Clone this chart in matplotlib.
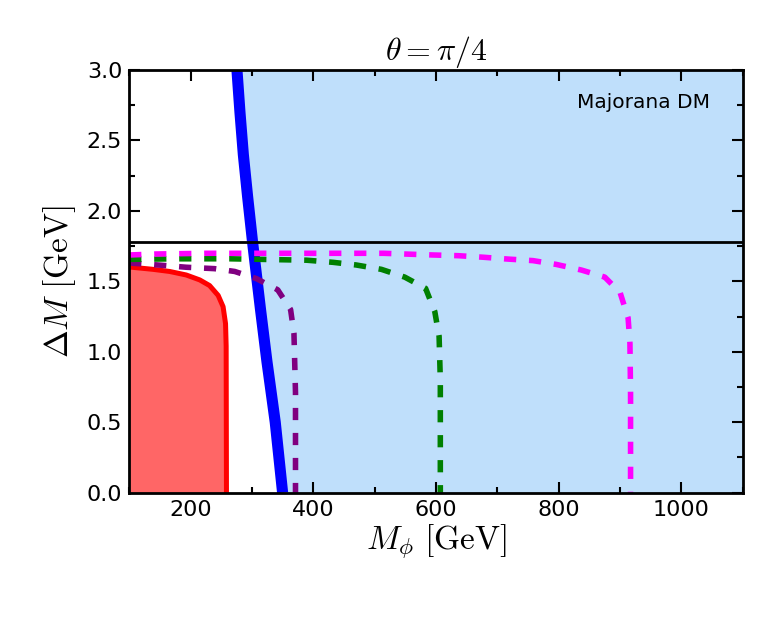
import matplotlib
matplotlib.use("Agg")
import matplotlib.pyplot as plt
from matplotlib.ticker import MultipleLocator

plt.rcParams['mathtext.fontset'] = 'cm'
plt.rcParams['font.family'] = ['DejaVu Sans']

# Data
blue_y = [0.0, 0.25, 0.5, 0.93, 1.3, 1.78, 2.1, 2.4, 2.7, 3.0]
blue_x = [350, 344, 338, 324.5, 314, 301, 293, 286, 280.5, 275.6]

red_x = [100, 104, 139, 166, 193, 215, 231, 245, 253, 257, 258, 258.5]
red_y = [1.60, 1.60, 1.585, 1.57, 1.545, 1.51, 1.47, 1.40, 1.32, 1.20, 1.04, 0.0]

purple_x = [100, 150, 193, 239, 272, 307, 342, 363, 368.5, 371, 371]
purple_y = [1.63, 1.615, 1.60, 1.59, 1.57, 1.52, 1.44, 1.30, 1.13, 0.71, 0.0]

green_x = [100, 182, 264, 389, 432, 470, 511, 549, 583, 598, 605, 607, 607]
green_y = [1.656, 1.66, 1.66, 1.65, 1.635, 1.616, 1.585, 1.53, 1.45, 1.285, 1.11, 0.8, 0.0]

magenta_x = [100, 144, 226, 391, 514, 595, 636, 677, 717, 758, 796, 837, 875, 900, 913, 916, 917, 917]
magenta_y = [1.687, 1.694, 1.699, 1.699, 1.699, 1.687, 1.682, 1.671, 1.658, 1.647, 1.62, 1.58,
             1.53, 1.42, 1.24, 1.06, 0.7, 0.0]

m_tau = 1.777
x_range = [100, 1100]
y_range = [0, 3]

fig = plt.figure(figsize=(7.69, 6.19), dpi=100)
ax = fig.add_axes([0.168, 0.204, 0.798, 0.683])

ax.fill_betweenx(blue_y, blue_x, x_range[1], color='#bfdffb', lw=0, zorder=1)
ax.fill_between(red_x, 0, red_y, color='#ff6666', lw=0, zorder=2)
ax.plot(red_x, red_y, color='red', lw=3.6, zorder=3, solid_capstyle='butt', solid_joinstyle='round')
ax.plot(blue_x, blue_y, color='blue', lw=8, zorder=3, solid_capstyle='butt', solid_joinstyle='round')

dash = dict(lw=4, ls=(0, (2.2, 2.3)), dash_capstyle='butt', zorder=4)
ax.plot(purple_x, purple_y, color='purple', **dash)
ax.plot(green_x, green_y, color='green', **dash)
ax.plot(magenta_x, magenta_y, color='magenta', **dash)

ax.axhline(m_tau, color='black', lw=2, zorder=5)

ax.text(938, 2.766, 'Majorana DM', fontsize=14.5, ha='center', va='center', zorder=6)

ax.set_xlim(x_range)
ax.set_ylim(y_range)
ax.xaxis.set_major_locator(MultipleLocator(200))
ax.xaxis.set_minor_locator(MultipleLocator(100))
ax.yaxis.set_major_locator(MultipleLocator(0.5))
ax.yaxis.set_minor_locator(MultipleLocator(0.25))
ax.tick_params(which='both', direction='in', top=True, right=True, labelsize=16, width=1.5)
ax.tick_params(which='major', length=8, pad=5)
ax.tick_params(which='minor', length=4)
for s in ax.spines.values():
    s.set_linewidth(2)
    s.set_zorder(7)

ax.set_xlabel(r'$M_\phi\ [\mathrm{GeV}]$', fontsize=24, labelpad=2)
ax.set_ylabel(r'$\Delta M\ [\mathrm{GeV}]$', fontsize=24, labelpad=6)
ax.set_title(r'$\theta=\pi/4$', fontsize=23, pad=5)

fig.savefig('out.png', dpi=100)
